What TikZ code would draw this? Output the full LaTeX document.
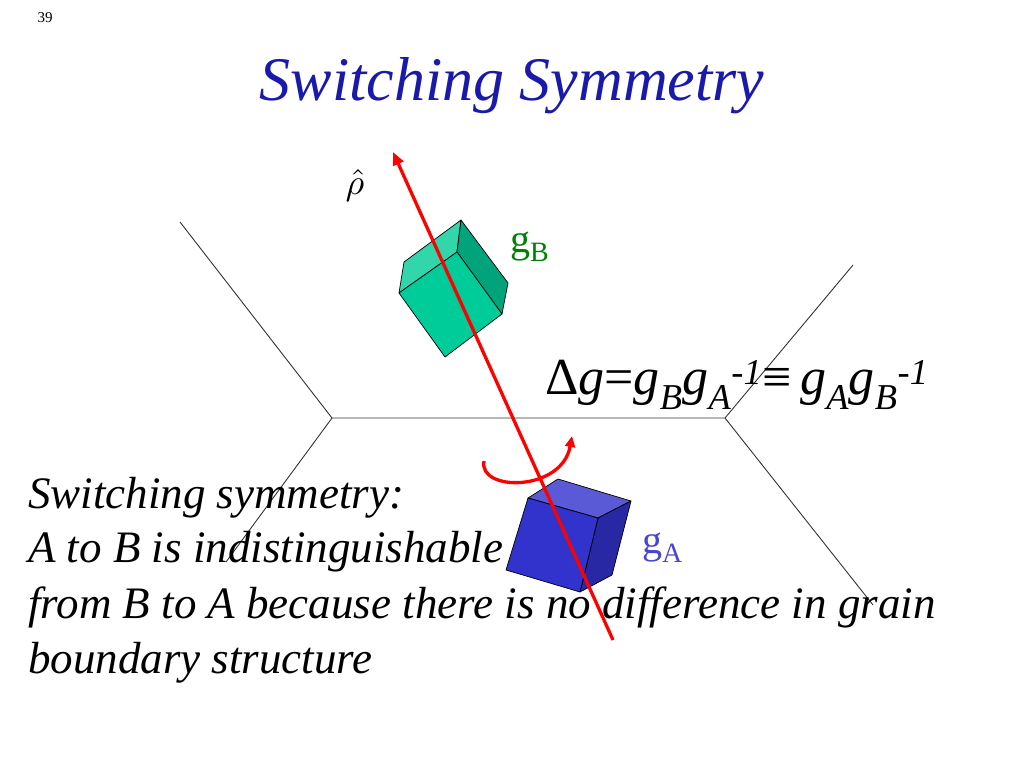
\documentclass[tikz,border=0pt]{standalone}
\usepackage{fontspec}
\setmainfont{Liberation Serif}
\usetikzlibrary{arrows.meta}
\definecolor{titleblue}{RGB}{26,26,170}
\definecolor{gbgreen}{RGB}{0,128,0}
\definecolor{gaBlue}{RGB}{70,70,210}
\definecolor{gtop}{RGB}{51,214,170}
\definecolor{gfront}{RGB}{0,204,153}
\definecolor{gside}{RGB}{0,163,122}
\definecolor{btop}{RGB}{90,90,215}
\definecolor{bfront}{RGB}{50,50,205}
\definecolor{bside}{RGB}{40,40,165}
\tikzset{gb/.style={draw=black!80,line width=0.9pt},
 face/.style={draw=black,line width=0.7pt,line join=round},
 body/.style={font=\itshape\fontsize{45}{45}\selectfont,anchor=base west,inner sep=0pt}}
\begin{document}
\begin{tikzpicture}[x=1pt,y=-1pt]
\useasboundingbox[fill=white] (0,0) rectangle (1024,768);
\node[inner sep=0pt] (num) at (45,18) {\fontsize{15}{15}\selectfont 39};
\node[inner sep=0pt,text=titleblue] (title) at (512,86) {\itshape\fontsize{62}{62}\selectfont Switching Symmetry};
% grain boundaries
\coordinate (j1) at (332,418); \coordinate (j2) at (725,418);
\coordinate (e1) at (180,222); \coordinate (e2) at (226,562);
\coordinate (e3) at (853,265); \coordinate (e4) at (873,605);
\draw[gb] (e1)--(j1)--(j2)--(e3); \draw[gb] (j1)--(e2); \draw[gb] (j2)--(e4);
% green cube
\coordinate (ga) at (404,262); \coordinate (gb) at (461,220); \coordinate (gc) at (457,252);
\coordinate (gd) at (399,293); \coordinate (ge) at (508,283); \coordinate (gf) at (502,314);
\coordinate (gg) at (445,357);
\draw[face,fill=gtop] (ga)--(gb)--(gc)--(gd)--cycle;
\draw[face,fill=gside] (gb)--(ge)--(gf)--(gc)--cycle;
\draw[face,fill=gfront] (gd)--(gc)--(gf)--(gg)--cycle;
% blue cube
\coordinate (ba) at (528,498); \coordinate (bb) at (558,479); \coordinate (bc) at (631,501);
\coordinate (bd) at (598,518); \coordinate (be) at (580,592); \coordinate (bf) at (506,570);
\coordinate (bg) at (612,575);
\draw[face,fill=btop] (ba)--(bb)--(bc)--(bd)--cycle;
\draw[face,fill=bside] (bd)--(bc)--(bg)--(be)--cycle;
\draw[face,fill=bfront] (ba)--(bd)--(be)--(bf)--cycle;
% texts
\node[inner sep=0pt] (rho) at (355,185) {\scalebox{3.6}{$\hat{\rho}$}};
\node[inner sep=0pt,text=gbgreen,anchor=base west] (gB) at (510,252) {\fontsize{40}{40}\selectfont g\textsubscript{B}};
\node[inner sep=0pt,text=gaBlue,anchor=base west] (gA) at (642,553) {\fontsize{40}{40}\selectfont g\textsubscript{A}};
\node[inner sep=0pt,anchor=base west] (eq) at (545,394) {\fontsize{52}{52}\selectfont Δ\textit{g}=\textit{g\textsubscript{B}g\textsubscript{A}\textsuperscript{-1}}≡\,\textit{g\textsubscript{A}g\textsubscript{B}\textsuperscript{-1}}};
\node[body] (t1) at (28,508) {Switching symmetry:};
\node[body] (t2) at (28,562) {A to B is indistinguishable};
\node[body] (t3) at (28,618) {from B to A because there is no difference in grain};
\node[body] (t4) at (28,673) {boundary structure};
% red axis
\coordinate (ab) at (613,640); \coordinate (at) at (393,152);
\draw[red,line width=3.3pt,-{Triangle[length=13pt,width=11pt]}] (ab)--(at);
\coordinate (r0) at (484,461); \coordinate (r1) at (572,436);
\draw[red,line width=3.3pt,-{Triangle[length=11pt,width=10pt]}] (r0) .. controls (478,492) and (562,492) .. (r1);
\end{tikzpicture}
\end{document}
